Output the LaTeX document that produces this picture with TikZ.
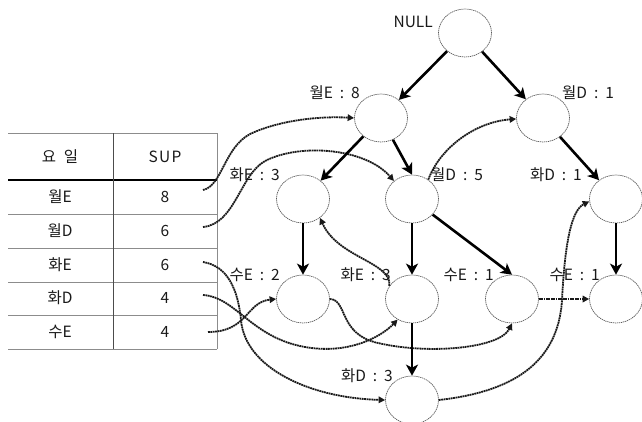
\documentclass[tikz,border=0pt]{standalone}
\usepackage{fontspec}
\setmainfont{Noto Sans CJK KR}
\usetikzlibrary{arrows.meta,shapes.geometric}
% spaced colon between an item and its count
\newcommand\lsep{\hspace{0.45em}:\hspace{0.45em}}
\begin{document}
\begin{tikzpicture}[x=1pt,y=-1pt,
  every node/.style={font=\fontsize{15.5}{18}\selectfont, text=black!90},
  item/.style={ellipse, draw=black!65, line width=0.7pt,
    dash pattern=on 1.3pt off 0.7pt, minimum width=53pt, minimum height=48pt, inner sep=0pt},
  lab/.style={inner sep=0pt},
  tree/.style={line width=2.6pt, -{Stealth[length=11pt,width=12pt,inset=3pt]}},
  link/.style={line width=1.8pt, draw=black!90, dash pattern=on 1.8pt off 0.6pt,
    -{Triangle[length=6.5pt,width=6.5pt]}},
  rule/.style={draw=black!45, line width=0.8pt},
]
\useasboundingbox (0,0) rectangle (642,421);

% ---- header table ----
\draw[rule] (8,133) -- (217,133);
\draw[draw=black, line width=1.5pt] (8,180) -- (217,180);
\draw[rule] (8,214) -- (217,214);
\draw[rule] (8,248) -- (217,248);
\draw[rule] (8,282) -- (217,282);
\draw[rule] (8,315) -- (217,315);
\draw[rule] (8,349) -- (217,349);
\draw[draw=black!70, line width=0.8pt] (113,133) -- (113,349);
\draw[rule] (217,133) -- (217,349);

\node (h1) at (60,157) {요\hspace{0.5em}일};
\node (h2) at (165,157) {S\hspace{0.08em}U\hspace{0.08em}P};
\node (r1a) at (60,197) {월E};  \node (r1b) at (165,197) {8};
\node (r2a) at (60,231) {월D};  \node (r2b) at (165,231) {6};
\node (r3a) at (60,265) {화E};  \node (r3b) at (165,265) {6};
\node (r4a) at (60,298) {화D};  \node (r4b) at (165,298) {4};
\node (r5a) at (60,332) {수E};  \node (r5b) at (165,332) {4};

\coordinate (t1) at (203,190);
\coordinate (t2) at (203,227);
\coordinate (t3) at (203,262);
\coordinate (t4) at (203,295);
\coordinate (t5) at (208,332);

% ---- tree nodes ----
\node[item] (null) at (465,33) {};
\node[item] (me)   at (381,118) {};
\node[item] (md1)  at (543,118) {};
\node[item] (he1)  at (303,199) {};
\node[item] (md5)  at (412,199) {};
\node[item] (hd1)  at (616,199) {};
\node[item] (se2)  at (303,299) {};
\node[item] (he2)  at (412,299) {};
\node[item] (se1)  at (512,299) {};
\node[item] (se1b) at (616,299) {};
\node[item] (hd3)  at (412,400) {};

% ---- node labels ----
\node[lab,anchor=east] (lnull) at (433,22)  {NULL};
\node[lab,anchor=east] (lme)   at (360,93)  {월E\lsep 8};
\node[lab,anchor=west] (lmd1)  at (562,93)  {월D\lsep 1};
\node[lab,anchor=east] (lhe1)  at (280,175) {화E\lsep 3};
\node[lab,anchor=west] (lmd5)  at (431,175) {월D\lsep 5};
\node[lab,anchor=east] (lhd1)  at (582,175) {화D\lsep 1};
\node[lab,anchor=east] (lse2)  at (280,275) {수E\lsep 2};
\node[lab,anchor=east] (lhe2)  at (391,275) {화E\lsep 3};
\node[lab,anchor=east] (lse1)  at (494,275) {수E\lsep 1};
\node[lab,anchor=east] (lse1b) at (600,275) {수E\lsep 1};
\node[lab,anchor=east] (lhd3)  at (393,376) {화D\lsep 3};

% ---- node links ----
\draw[link] (t1) .. controls (222,186) and (224,148) .. (250,134)
                 .. controls (280,120) and (320,116) .. (me.west);
\draw[link] (t2) .. controls (235,224) and (240,175) .. (265,161)
                 .. controls (300,143) and (365,148) .. (md5.135);
\draw[link] (t3) .. controls (228,266) and (238,290) .. (241,320)
                 .. controls (245,368) and (310,398) .. (hd3.west);
\draw[link] (t4) .. controls (235,297) and (250,335) .. (300,346)
                 .. controls (345,356) and (380,338) .. (he2.235);
\draw[link] (t5) .. controls (248,332) and (246,302) .. (se2.west);
\draw[link] (he2.150) .. controls (392,262) and (338,258) .. (he1.-48);
\draw[link] (md5.50) .. controls (440,148) and (475,122) .. (md1.182);
\draw[link] (se2.east) .. controls (348,300) and (338,334) .. (378,343)
                       .. controls (430,355) and (500,348) .. (se1.south);
\draw[link] (se1.east) -- (se1b.west);
\draw[link] (hd3.east) .. controls (510,392) and (558,365) .. (562,300)
                       .. controls (565,240) and (572,210) .. (hd1.185);

% ---- tree edges ----
\draw[tree] (null) -- (me);
\draw[tree] (null) -- (md1);
\draw[tree] (me) -- (he1);
\draw[tree] (me) -- (md5.north);
\draw[tree] (md1) -- (hd1);
\draw[tree] (he1) -- (se2);
\draw[tree] (md5) -- (he2);
\draw[tree] (md5) -- (se1.north);
\draw[tree] (hd1) -- (se1b);
\draw[tree] (he2) -- (hd3);
\end{tikzpicture}
\end{document}
